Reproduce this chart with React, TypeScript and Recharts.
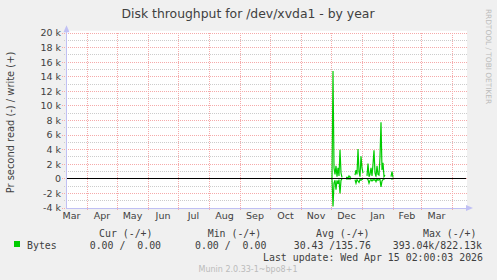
import React from 'react';
import { LineChart, Line, XAxis, YAxis, ReferenceLine, ReferenceArea, ReferenceDot } from 'recharts';

// day 0 = 2025-03-11 (start of the 400-day window ending 2026-04-15)
const days = [266, 267, 268, 269, 270, 271, 272, 273, 274, 275, 276, 277, 278, 279, 280, 281, 282, 283, 284, 285, 286, 287, 288, 289, 290, 291, 292, 293, 294, 295, 296, 297, 298, 299, 300, 301, 302, 303, 304, 305, 306, 307, 308, 309, 310, 311, 312, 313, 314, 315, 316, 317, 318, 319, 320, 321, 322, 323, 324, 325, 326, 327];
const writeBytes: (number | null)[] = [0, 14800, 1500, 600, 1800, 300, 1500, 400, 4000, 800, 200, null, null, null, 200, 200, 100, 400, 200, 300, null, null, null, 500, 1200, 600, 4100, 1000, 300, 3100, 1500, 800, null, null, null, 400, 2100, 300, 600, 1500, 400, 2000, 3900, 800, 300, 1800, 600, 500, 3000, 7750, 1200, 2200, 300, 500, null, null, null, null, null, 300, 1000, 200];
const readBytes: (number | null)[] = [0, -3800, -600, -200, -1500, -200, -700, -100, -2000, -200, 0, null, null, null, 0, 0, 0, 0, 0, 0, null, null, null, -100, -600, -100, -300, -500, -100, -200, -100, 0, null, null, null, 0, -100, -600, -200, -100, -300, -100, -200, -100, -400, 0, -200, -100, -100, -1100, -300, -100, 0, 0, null, null, null, null, null, 0, 0, 0];

const monthLabels = ['Mar', 'Apr', 'May', 'Jun', 'Jul', 'Aug', 'Sep', 'Oct', 'Nov', 'Dec', 'Jan', 'Feb', 'Mar'];
const monthLabelDays = [5.5, 36, 66.5, 97, 127.5, 158.5, 189, 219.5, 250, 280.5, 311.5, 341, 370.5];
const monthStartDays = [21, 51, 82, 112, 143, 174, 204, 235, 265, 296, 327, 355, 386];

const yTicks = [-4000, -2000, 0, 2000, 4000, 6000, 8000, 10000, 12000, 14000, 16000, 18000, 20000];
const yMinor = [-3000, -1000, 1000, 3000, 5000, 7000, 9000, 11000, 13000, 15000, 17000, 19000];

const legendHeaders = ['Cur (-/+)', 'Min (-/+)', 'Avg (-/+)', 'Max (-/+)'];
const legendValues = ['0.00 /  0.00', '0.00 /  0.00', '30.43 /135.76', '393.04k/822.13k'];

const data = days.map((d, i) => ({ day: d, write: writeBytes[i], read: readBytes[i] }));

const GREEN = '#00cc00';
const AXIS = '#c0c0f4';
const MAJOR = '#f5aaaa';
const MINOR = '#cccccc';
const TEXT = '#404040';

const W = 497;
const H = 280;

const headerX = [99, 207.7, 316, 423];
const valueX = [89.7, 195, 293.7, 392.7];

export default function App() {
  return (
    <div style={{ position: 'absolute', left: 0, top: 0, width: W, height: H, background: '#f0f0f0' }}>
      <style>{`.crisp line { shape-rendering: crispEdges; }`}</style>
      <LineChart width={W} height={H} data={data} margin={{ top: 33, right: 31, bottom: 42, left: 0 }}>
        <XAxis
          type="number"
          dataKey="day"
          domain={[0, 400]}
          ticks={monthLabelDays}
          interval={0}
          height={30}
          tickFormatter={(v: number, i: number) => monthLabels[i]}
          axisLine={false}
          tickLine={false}
          tickSize={0}
          tickMargin={4}
          tick={{ fill: TEXT, fontSize: 9.5, fontFamily: 'DejaVu Sans' }}
          allowDataOverflow
        />
        <YAxis
          type="number"
          domain={[-4000, 20000]}
          ticks={yTicks}
          interval={0}
          tickFormatter={(v: number) => (v === 0 ? '0' : `${v / 1000} k`)}
          axisLine={false}
          tickLine={false}
          tickSize={0}
          tickMargin={5}
          width={66}
          tick={{ fill: TEXT, fontSize: 9.5, fontFamily: 'DejaVu Sans' }}
          allowDataOverflow
        />
        <ReferenceArea x1={0} x2={401} y1={-4000} y2={20300} fill="#ffffff" fillOpacity={1} stroke="none" ifOverflow="visible" />
        {yMinor.map((v) => (
          <ReferenceLine key={'mi' + v} className="crisp" segment={[{ x: -2, y: v }, { x: 401, y: v }]} stroke={MINOR} strokeDasharray="1 1" ifOverflow="visible" />
        ))}
        {yTicks.map((v) => (
          <ReferenceLine key={'ma' + v} className="crisp" segment={[{ x: -4, y: v }, { x: 401, y: v }]} stroke={MAJOR} strokeDasharray="1 1" ifOverflow="visible" />
        ))}
        {monthStartDays.map((d) => (
          <ReferenceLine key={'vx' + d} className="crisp" segment={[{ x: d, y: -4300 }, { x: d, y: 20000 }]} stroke={MAJOR} strokeDasharray="1 1" ifOverflow="visible" />
        ))}
        <Line dataKey="write" stroke={GREEN} strokeWidth={1.2} dot={false} isAnimationActive={false} connectNulls={false} type="linear" />
        <Line dataKey="read" stroke={GREEN} strokeWidth={1.2} dot={false} isAnimationActive={false} connectNulls={false} type="linear" />
        <ReferenceLine className="crisp" y={0} stroke="#000000" strokeWidth={1.3} ifOverflow="visible" />
        <ReferenceLine className="crisp" segment={[{ x: 0.5, y: -4000 }, { x: 0.5, y: 20500 }]} stroke={AXIS} ifOverflow="visible" />
        <ReferenceLine className="crisp" segment={[{ x: 0, y: -4000 }, { x: 403, y: -4000 }]} stroke={AXIS} ifOverflow="visible" />
        <ReferenceDot
          x={0.5}
          y={20500}
          r={3}
          ifOverflow="visible"
          shape={(p: any) => <polygon points={`${p.cx - 3},${p.cy + 3} ${p.cx + 3},${p.cy + 3} ${p.cx},${p.cy - 4}`} fill={AXIS} />}
        />
        <ReferenceDot
          x={403}
          y={-4000}
          r={3}
          ifOverflow="visible"
          shape={(p: any) => <polygon points={`${p.cx - 3},${p.cy - 3} ${p.cx - 3},${p.cy + 3} ${p.cx + 4},${p.cy}`} fill={AXIS} />}
        />
      </LineChart>
      <svg width={W} height={H} style={{ position: 'absolute', left: 0, top: 0, pointerEvents: 'none' }}>
        <text x={248} y={18} textAnchor="middle" fill={TEXT} fontSize={12.4} fontFamily="DejaVu Sans">
          Disk throughput for /dev/xvda1 - by year
        </text>
        <text x={0} y={0} transform="translate(13.5,122.5) rotate(-90)" textAnchor="middle" fill={TEXT} fontSize={9.9} fontFamily="DejaVu Sans">
          Pr second read (-) / write (+)
        </text>
        <text x={0} y={0} transform="translate(486,56.5) rotate(90)" textAnchor="middle" fill="#bbbbbb" fontSize={7.4} fontFamily="DejaVu Sans">
          RRDTOOL / TOBI OETIKER
        </text>
        {legendHeaders.map((h, i) => (
          <text key={h} x={headerX[i]} y={237.3} fill={TEXT} fontSize={9.9} fontFamily="DejaVu Sans Mono" style={{ whiteSpace: 'pre' }}>
            {h}
          </text>
        ))}
        <rect x={14} y={241} width={6} height={6} fill={GREEN} />
        <text x={27} y={249.3} fill={TEXT} fontSize={9.9} fontFamily="DejaVu Sans Mono">
          Bytes
        </text>
        {legendValues.map((v, i) => (
          <text key={i} x={valueX[i]} y={249.3} fill={TEXT} fontSize={9.9} fontFamily="DejaVu Sans Mono" style={{ whiteSpace: 'pre' }}>
            {v}
          </text>
        ))}
        <text x={483} y={261.3} textAnchor="end" fill={TEXT} fontSize={9.9} fontFamily="DejaVu Sans Mono" style={{ whiteSpace: 'pre' }}>
          Last update: Wed Apr 15 02:00:03 2026
        </text>
        <text x={248} y={272.3} textAnchor="middle" fill="#bbbbbb" fontSize={8} fontFamily="DejaVu Sans">
          Munin 2.0.33-1~bpo8+1
        </text>
      </svg>
    </div>
  );
}
